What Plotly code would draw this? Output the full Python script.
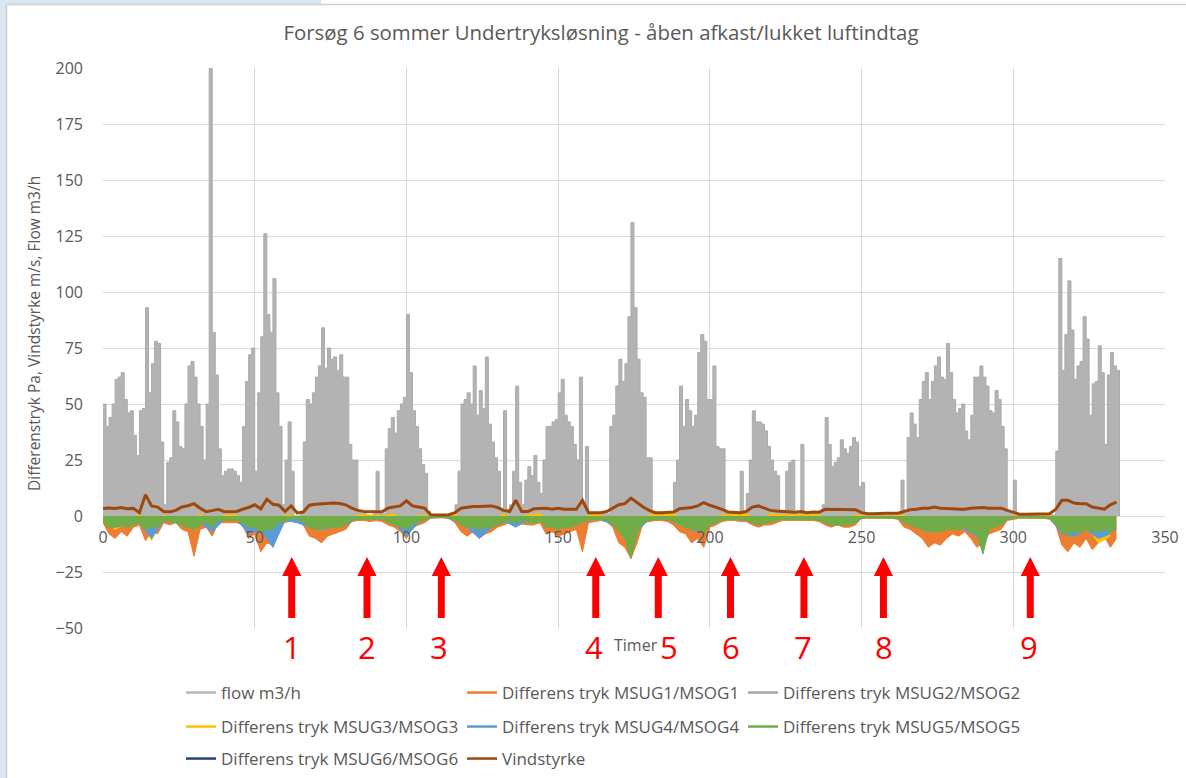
import plotly.graph_objects as go

# ---------------- data ----------------
flow = [
    50, 40, 44, 50, 61, 62, 64, 52, 46, 47, 36, 27,
    47, 48, 93, 55, 68, 78, 77, 33, 5,
    24, 26, 47, 42, 31, 30, 50, 67, 69, 62, 50, 40, 25, 50, 215, 82, 63, 30,
    18, 20, 21, 21, 20, 18, 15,
    40, 60, 72, 75, 20, 55, 80, 126, 90, 82, 106, 55, 40, 5, 25, 42, 20,
    0, 0, 2,
    33, 52, 50, 55, 62, 67, 84, 66, 75, 70, 71, 65, 72, 62, 62, 32, 25, 25, 2,
    1, 1, 0, 0, 1, 20, 1, 1,
    30, 39, 44, 37, 47, 50, 53, 90, 64, 47, 40, 30, 23, 19, 2,
    0, 0, 0, 0, 0, 0, 0, 0, 5,
    20, 50, 52, 55, 50, 67, 45, 56, 48, 71, 41, 33, 26, 20,
    2, 47, 3, 5, 20, 58, 15, 5, 16, 22, 18, 27, 15, 10, 25, 40, 40,
    42, 43, 55, 61, 45, 42, 40, 32, 25, 62, 5, 31, 1, 1, 1, 1, 1, 1,
    1, 40, 45, 58, 70, 60, 68, 89, 131, 93, 70, 55, 53, 26, 26, 2,
    1, 1, 1, 1, 1, 1, 15,
    25, 58, 40, 52, 47, 40, 45, 73, 81, 78, 52, 52, 67, 31, 30, 30, 2,
    1, 1, 1, 1, 20, 1, 10,
    25, 47, 42, 42, 41, 38, 31, 25, 20, 18, 2,
    1, 20, 24, 25, 1, 1, 32, 1, 1, 1, 1, 1, 1, 5,
    44, 32, 22, 24, 26, 34, 30, 28, 31, 35, 33, 13, 15,
    0.5, 0.5, 0.5, 0.5, 0.5, 0.5, 0.5, 0.5, 0.5, 0.5, 0.5, 0.5, 16, 1,
    35, 46, 41, 35, 52, 60, 64, 52, 60, 67, 71, 62, 61, 77, 64, 52, 46, 48, 50, 38,
    34, 45, 62, 62, 67, 62, 58, 47, 46, 56, 52, 40, 30, 2,
    1, 16, 0.5, 0.5, 0.5, 0.5, 0.5, 0.5, 0.5, 0.5, 0.5, 0.5, 0.5, 0.5, 0.5,
    29, 115, 65, 81, 105, 83, 61, 67, 69, 89, 79, 45, 59, 60, 76, 64, 32, 63, 73, 67, 65, 0,
]

vindstyrke = [
    3.4, 3.6, 3.4, 3.8, 3.2, 3.4, 1.5, 9.5, 4.5, 4.0,
    2.0, 1.9, 2.5, 4.0, 4.6, 5.5, 3.5, 1.9, 2.4, 3.0,
    1.9, 2.0, 2.0, 3.0, 3.8, 5.0, 3.2, 7.5, 5.2, 4.8,
    2.0, 4.5, 1.4, 1.8, 4.8, 5.2, 5.5, 5.5, 5.8, 5.6,
    5.0, 3.5, 2.5, 2.0, 2.0, 1.9, 1.9, 3.6, 4.0, 4.5,
    6.8, 4.5, 4.0, 3.5, 0.5, 0.4, 0.4, 0.6, 1.5, 3.5,
    4.0, 4.2, 4.2, 4.5, 4.5, 3.8, 2.5, 2.0, 7.0, 2.0,
    2.0, 3.2, 3.5, 3.5, 3.0, 3.4, 3.0, 3.0, 3.0, 7.0,
    1.5, 1.5, 1.5, 2.0, 3.5, 5.0, 5.5, 8.0, 6.0, 4.0,
    2.5, 1.5, 1.5, 1.8, 1.8, 3.2, 3.5, 3.8, 4.5, 6.0,
    4.8, 4.0, 3.0, 1.8, 1.8, 1.5, 2.0, 4.0, 4.5, 3.5,
    2.5, 2.2, 2.0, 2.0, 1.7, 2.0, 1.5, 1.8, 1.7, 3.0,
    3.0, 3.0, 3.0, 3.0, 2.8, 1.5, 1.0, 1.0, 1.2, 1.2,
    1.2, 1.2, 2.0, 2.8, 3.0, 3.5, 3.5, 4.0, 3.5, 3.5,
    3.2, 3.0, 3.0, 3.5, 3.8, 3.8, 3.5, 3.5, 3.5, 2.5,
    1.5, 0.8, 0.8, 0.8, 0.8, 0.8, 1.0, 3.0, 7.0, 7.0,
    5.8, 5.5, 5.5, 4.0, 3.5, 3.0, 5.0, 6.2,
]

msug1 = [
    -3, -8, -10, -7, -9, -5, -4, -11, -7, -8,
    -3, -4, -3, -6, -7, -18, -6, -5, -9, -3,
    -3, -3, -3, -4, -10, -8, -16, -12, -13, -3,
    -3, -2, -1.5, -4, -9, -10, -12, -9, -8, -7,
    -6, -2.5, -2, -2, -2.5, -2, -2.5, -4, -5, -7,
    -10, -5, -4, -3, -1, -0.8, -0.8, -1, -3, -7,
    -9, -7, -10, -8, -7, -5, -4, -3, -4, -3.5,
    -4, -4, -3, -8, -7, -9, -8, -7, -6, -16,
    -3, -2.5, -2, -2.5, -5, -12, -14, -19, -12, -3,
    -2.5, -2, -2, -2.5, -4, -7, -8, -12, -10, -14,
    -5, -4, -2.5, -2, -2, -2.5, -2.5, -4, -5, -4,
    -4, -3, -2, -2, -2, -2, -2, -2, -2.5, -4,
    -5, -4, -5, -5, -4, -1, -1, -1, -1, -1,
    -1, -1.5, -5, -6, -8, -10, -14, -12, -13, -10,
    -8, -9, -7, -10, -14, -12, -8, -7, -6, -2,
    -1.5, -1, -1, -1, -1, -1, -1.5, -4, -13, -16,
    -12, -14, -10, -15, -12, -9, -14, -10,
]

msug2 = [
    -1, -2, -2, -1, -3, -0.5, -1, -2, -1, -2,
    -0.5, -0.5, -2, -2, -3, -0.5, -0.5, -2, -3, -2,
    -2, -0.5, -0.5, -0.5, -1, -3, -1, -0.3, -0.3, -1,
    -2, -3, -2, -1, -1, -1, -1, -2, -2, -2,
    -0.5, -0.5, -2, -5, -3, -0.5, -0.5, -1, -2, -3,
    -1, -0.5, -0.5, -1, -1.5, -1, -0.5, -0.5, -0.5, -1,
    -1.5, -1.5, -1, -0.3, -0.3, -0.3, -1, -2, -3, -3,
    -2, -3, -4, -2, -1, -0.3, -0.3, -0.3, -0.5, -3,
    -4, -3, -4, -4,
]

msug3 = [
    -1, -6, -3, 1, -11, 0.5, -2, -4, 1, -3,
    0.5, 0.5, -6, -3, -14, 0.5, 0, -4, -3, -5,
    -2, 0.5, 0.5, 0, 1, -5, 0.5, 0, 0, 1,
    -3, -4, -2, 1, -2, 0.5, 1, -3, -2, -3,
    0.5, 0.5, -2, -5, -3, 0.5, 0.5, 1, -2, -4,
    -2, 0.5, 0.5, 1, -2, 1, 0.5, 0.5, 0.5, 0.5,
    -2, -2, 0.5, 0, 0, 0, 0.5, -4, -6, -5,
    -4, -6, -7, -4, -2, 0, 0, 0, 0.5, -8,
    -6, -4, -12, -9,
]

msug4 = [
    -2, -5, -4, -3, -10, -2, -3, -5, -3, -7,
    -1.5, -1.5, -8, -6, -14, -2, -3, -5, -6, -5,
    -4, -1, -1, -1, -3, -9, -3, -0.5, -0.5, -2,
    -5, -10, -5, -2, -5, -2, -2, -5, -5, -4,
    -1.5, -1.5, -4, -8, -7, -1.5, -1.5, -2, -5, -7,
    -3, -1.5, -1.5, -2, -3, -2, -1, -1, -1, -2,
    -3, -3, -2, -0.5, -0.5, -0.5, -2, -5, -7, -6,
    -5, -6, -9, -5, -3, -0.5, -0.5, -0.5, -1, -8,
    -9, -6, -10, -8,
]

msug5 = [
    -3, -5, -5, -4, -5, -4, -3, -6, -5, -5,
    -2, -2.5, -3, -4, -5, -6, -4, -3, -5, -2,
    -2, -2, -2, -3, -5, -5, -7, -6, -6, -3,
    -2, -1.5, -1, -3, -5, -6, -6, -5, -5, -5,
    -4, -2, -1.5, -1.5, -1.5, -1.5, -1.5, -3, -4, -5,
    -6, -4, -3, -2, -0.8, -0.5, -0.5, -0.8, -2, -4,
    -5, -5, -6, -5, -5, -4, -3, -2, -3, -2,
    -3, -3, -2.5, -5, -5, -6, -5, -5, -4, -3,
    -2, -1.5, -1.5, -2, -4, -7, -10, -19, -8, -3,
    -2, -1.5, -1.5, -1.5, -2.5, -4, -5, -6, -6, -8,
    -4, -3, -2, -1.5, -1.5, -1.5, -2, -3, -4, -3,
    -3, -2, -1.5, -1.5, -1.5, -1.5, -1.5, -1.5, -2, -3,
    -4, -4, -4, -4, -3, -1, -0.8, -0.8, -0.8, -0.8,
    -0.8, -1, -3, -4, -5, -6, -7, -7, -7, -6,
    -6, -6, -5, -7, -8, -17, -6, -5, -4, -1.5,
    -1, -0.8, -0.8, -0.8, -0.8, -0.8, -1, -4, -7, -8,
    -7, -7, -6, -7, -7, -6, -7, -6,
]

msug6 = [
    -0.5, -0.6, -0.5, -0.4, -0.6, -0.3, -0.4, -0.6, -0.5, -0.6,
    -0.2, -0.2, -0.5, -0.6, -0.7, -0.2, -0.2, -0.5, -0.6, -0.6,
    -0.5, -0.2, -0.2, -0.2, -0.4, -0.6, -0.4, -0.1, -0.1, -0.4,
    -0.5, -0.6, -0.5, -0.3, -0.4, -0.3, -0.3, -0.5, -0.5, -0.5,
    -0.2, -0.2, -0.5, -0.8, -0.6, -0.2, -0.2, -0.3, -0.5, -0.6,
    -0.4, -0.2, -0.2, -0.3, -0.4, -0.3, -0.2, -0.2, -0.2, -0.2,
    -0.4, -0.4, -0.3, -0.1, -0.1, -0.1, -0.3, -0.5, -0.6, -0.6,
    -0.5, -0.6, -0.7, -0.5, -0.3, -0.1, -0.1, -0.1, -0.2, -0.6,
    -0.7, -0.6, -0.7, -0.6,
]

hours_1h = list(range(len(flow)))
hours_2h = [2 * i for i in range(len(vindstyrke))]
hours_4h = [4 * i for i in range(len(msug2))]

arrow_hours = [62.2, 87.0, 111.5, 162.4, 183.0, 206.8, 231.0, 257.2, 305.6]
arrow_label_hours = [62.2, 86.9, 110.6, 161.7, 186.4, 206.9, 230.6, 257.3, 305.1]
arrow_labels = ["1", "2", "3", "4", "5", "6", "7", "8", "9"]

x_ticks = [0, 50, 100, 150, 200, 250, 300, 350]
y_ticks = [-50, -25, 0, 25, 50, 75, 100, 125, 150, 175, 200]

title_text = "Forsøg 6 sommer Undertryksløsning - åben afkast/lukket luftindtag"
y_title = "Differenstryk Pa, Vindstyrke m/s, Flow m3/h"
x_title = "Timer"

names = ["flow m3/h", "Differens tryk MSUG1/MSOG1", "Differens tryk MSUG2/MSOG2",
         "Differens tryk MSUG3/MSOG3", "Differens tryk MSUG4/MSOG4", "Differens tryk MSUG5/MSOG5",
         "Differens tryk MSUG6/MSOG6", "Vindstyrke"]

# ---------------- style ----------------
FONT = "Open Sans"
TXT = "#595959"
GRID = "#D9D9D9"
C_FLOW = "#B3B3B3"
C_FLOW_LEG = "#B8B8B8"
C1 = "#ED7D31"
C2 = "#A5A5A5"
C3 = "#FFC000"
C4 = "#5B9BD5"
C5 = "#70AD47"
C6 = "#264478"
C7 = "#9E480E"
colors = [C_FLOW_LEG, C1, C2, C3, C4, C5, C6, C7]
legend_ids = ["legend", "legend", "legend", "legend2", "legend2", "legend2", "legend3", "legend3"]

# plot-area geometry in pixels
L, T, W, H = 103, 68, 1062, 560
def px(xp):
    return (xp - L) / W
def py(yp):
    return (T + H - yp) / H

fig = go.Figure()

# data traces (filled areas drawn like the dense line series)
fig.add_trace(go.Scatter(x=hours_1h, y=flow, mode="lines", fill="tozeroy", line_shape="hv",
                         line=dict(color="#ABABAB", width=1), fillcolor=C_FLOW,
                         showlegend=False, legendgroup="flow", name=names[0]))
fig.add_trace(go.Scatter(x=hours_4h, y=msug6, mode="lines", line=dict(color=C6, width=1),
                         showlegend=False, legendgroup=names[6], name=names[6]))
for xs, ys, col, nm in [(hours_2h, msug1, C1, names[1]),
                        (hours_4h, msug2, C2, names[2]),
                        (hours_4h, msug3, C3, names[3]),
                        (hours_4h, msug4, C4, names[4]),
                        (hours_2h, msug5, C5, names[5])]:
    fig.add_trace(go.Scatter(x=xs, y=ys, mode="lines", fill="tozeroy",
                             line=dict(color=col, width=1), fillcolor=col,
                             showlegend=False, legendgroup=nm, name=nm))
fig.add_trace(go.Scatter(x=hours_2h, y=vindstyrke, mode="lines", line=dict(color=C7, width=3),
                         showlegend=False, legendgroup=names[7], name=names[7]))

# legend entries (line samples)
for nm, col, lg in zip(names, colors, legend_ids):
    fig.add_trace(go.Scatter(x=[None], y=[None], mode="lines", line=dict(color=col, width=2.5),
                             name=nm, legend=lg, legendgroup=nm if nm != names[0] else "flow",
                             showlegend=True))

# red arrows
shaft_w, head_w = 2.3, 6.3
y_bot, y_head, y_tip = -45.5, -26.8, -18.3
for h in arrow_hours:
    path = (f"M {h - shaft_w/2},{y_bot} L {h + shaft_w/2},{y_bot} L {h + shaft_w/2},{y_head} "
            f"L {h + head_w/2},{y_head} L {h},{y_tip} L {h - head_w/2},{y_head} "
            f"L {h - shaft_w/2},{y_head} Z")
    fig.add_shape(type="path", path=path, xref="x", yref="y",
                  fillcolor="#FF0000", line=dict(width=0))

annotations = []
for h, lab in zip(arrow_label_hours, arrow_labels):
    annotations.append(dict(x=h, y=py(647), xref="x", yref="paper", text=lab, showarrow=False,
                            font=dict(family=FONT, size=31, color="#FF0000"),
                            xanchor="center", yanchor="middle"))
annotations.append(dict(x=px(636), y=py(645), xref="paper", yref="paper", text=x_title,
                        showarrow=False, font=dict(family=FONT, size=16, color=TXT),
                        xanchor="center", yanchor="middle"))
annotations.append(dict(x=px(34), y=py(334), xref="paper", yref="paper", text=y_title,
                        textangle=-90, showarrow=False,
                        font=dict(family=FONT, size=15.5, color=TXT),
                        xanchor="center", yanchor="middle"))

# frame of the screenshot
frame_blue = "#DAE6F2"
fig.add_shape(type="rect", xref="paper", yref="paper", x0=px(0), x1=px(6.5), y0=py(778), y1=py(0),
              fillcolor=frame_blue, line=dict(width=0), layer="below")
fig.add_shape(type="rect", xref="paper", yref="paper", x0=px(0), x1=px(321), y0=py(4.5), y1=py(0),
              fillcolor=frame_blue, line=dict(width=0), layer="below")
fig.add_shape(type="line", xref="paper", yref="paper", x0=px(6.5), x1=px(6.5), y0=py(778), y1=py(4.5),
              line=dict(color="#D0D0D0", width=1.5))
fig.add_shape(type="line", xref="paper", yref="paper", x0=px(6.5), x1=px(1186), y0=py(4.5), y1=py(4.5),
              line=dict(color="#D0D0D0", width=1.5))

leg_common = dict(orientation="h", entrywidth=236, entrywidthmode="pixels", xanchor="left",
                  yanchor="middle", bgcolor="rgba(0,0,0,0)", itemwidth=30,
                  font=dict(family=FONT, size=17, color=TXT), traceorder="normal")

fig.update_layout(
    width=1186, height=778,
    margin=dict(l=L, r=1186 - L - W, t=T, b=778 - T - H, autoexpand=False),
    paper_bgcolor="white", plot_bgcolor="white",
    title=dict(text=title_text, x=601 / 1186, xref="container", xanchor="center",
               y=1 - 33 / 778, yref="container", yanchor="middle",
               font=dict(family=FONT, size=20.4, color=TXT)),
    xaxis=dict(range=[0, 350], tickvals=x_ticks, showgrid=True, gridcolor=GRID, gridwidth=1,
               zeroline=False, showline=False, anchor="free", position=0.2, automargin=False,
               tickfont=dict(family=FONT, size=16, color=TXT), ticklabelstandoff=10),
    yaxis=dict(range=[-50, 200], tickvals=y_ticks, showgrid=True, gridcolor=GRID, gridwidth=1,
               zeroline=False, showline=False, automargin=False,
               tickfont=dict(family=FONT, size=16, color=TXT), ticklabelstandoff=19),
    legend=dict(x=px(181), y=py(693), **leg_common),
    legend2=dict(x=px(181), y=py(727), **leg_common),
    legend3=dict(x=px(181), y=py(759), **leg_common),
    annotations=annotations,
    showlegend=True,
)

# remove the browser's default 8px page margin so the figure fills the window exactly
fig.write_html("out.html", config={"displayModeBar": False},
               post_script="document.body.style.margin='0';document.body.style.overflow='hidden';")
